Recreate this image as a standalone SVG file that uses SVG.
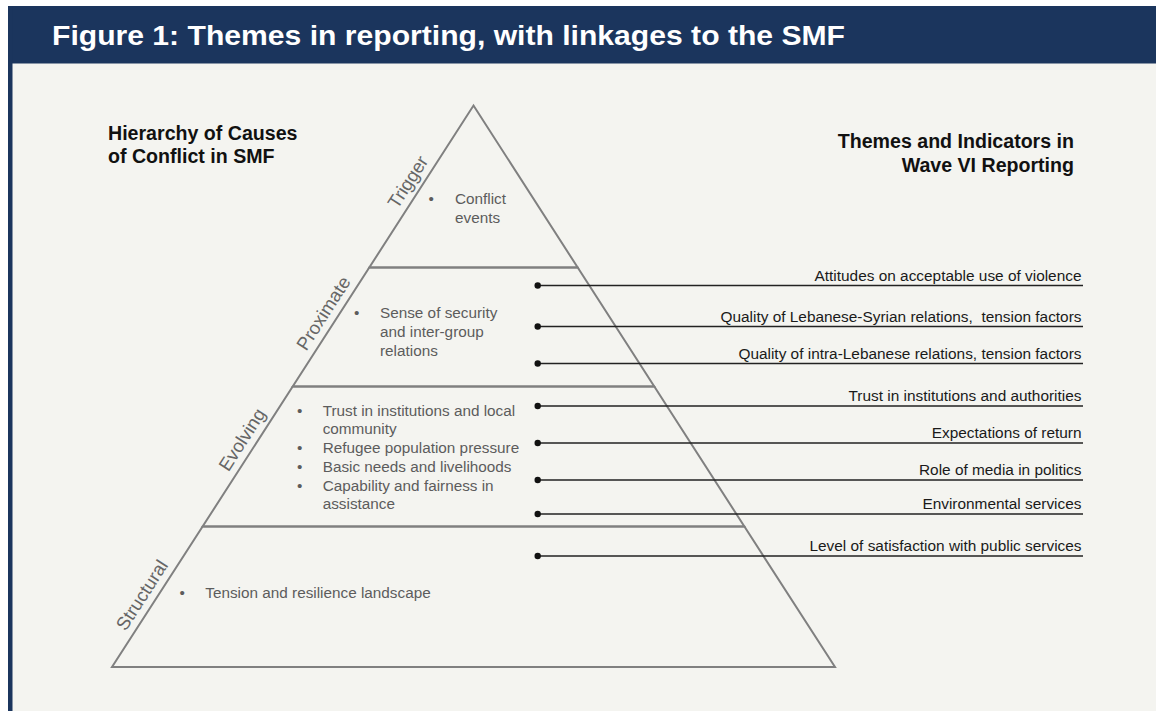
<svg xmlns="http://www.w3.org/2000/svg" width="1156" height="711" viewBox="0 0 1156 711">
<style>
.title{font-family:"Liberation Sans",Arial,sans-serif;font-weight:bold;font-size:27px;fill:#ffffff}
.head{font-family:"Liberation Sans",Arial,sans-serif;font-weight:bold;font-size:19.6px;fill:#111111}
.tier{fill:none;stroke:#808080;stroke-width:2;stroke-linejoin:miter}
.tl{font-family:"Liberation Sans",Arial,sans-serif;font-size:18.5px;fill:#666666}
.body{font-family:"Liberation Sans",Arial,sans-serif;font-size:15.3px;fill:#5c5c5c}
.ind{font-family:"Liberation Sans",Arial,sans-serif;font-size:15.4px;fill:#1a1a1a;text-anchor:end;white-space:pre}
.conn{stroke:#222222;stroke-width:1.5}
.dot{fill:#111111}
</style>
<rect x="0" y="0" width="1156" height="711" fill="#ffffff"/>
<rect x="8" y="6" width="1148" height="705" fill="#f4f4f0"/>
<g id="header">
<rect x="8" y="6" width="1148" height="57.5" fill="#1b355d"/>
<rect x="8" y="6" width="4.5" height="705" fill="#1b355d"/>
<text class="title" x="52" y="45" textLength="793" lengthAdjust="spacingAndGlyphs">Figure 1: Themes in reporting, with linkages to the SMF</text>
</g>
<g id="heading-left">
<text class="head" x="108" y="140">Hierarchy of Causes</text>
<text class="head" x="108" y="163.3">of Conflict in SMF</text>
</g>
<g id="heading-right">
<text class="head" x="1074" y="148.3" text-anchor="end">Themes and Indicators in</text>
<text class="head" x="1074" y="171.7" text-anchor="end">Wave VI Reporting</text>
</g>
<g id="tier-trigger">
<polygon class="tier" points="473.5,105.5 577.7,267.5 369.3,267.5"/>
<text class="tl" transform="translate(397.5,209.7) rotate(-57.22)">Trigger</text>
<text class="body" x="428.5" y="204.3">•</text>
<text class="body" x="455" y="204.3">Conflict</text>
<text class="body" x="455" y="222.7">events</text>
</g>
<g id="tier-proximate">
<polygon class="tier" points="369.3,267.5 577.7,267.5 654.3,386.5 292.7,386.5"/>
<text class="tl" transform="translate(306.2,351.7) rotate(-57.22)">Proximate</text>
<text class="body" x="354" y="318.3">•</text>
<text class="body" x="380" y="318.3">Sense of security</text>
<text class="body" x="380" y="337.3">and inter-group</text>
<text class="body" x="380" y="356">relations</text>
</g>
<g id="tier-evolving">
<polygon class="tier" points="292.7,386.5 654.3,386.5 744.4,526.5 202.6,526.5"/>
<text class="tl" transform="translate(228.4,472.5) rotate(-57.22)">Evolving</text>
<text class="body" x="297" y="415.5">•</text>
<text class="body" x="322.7" y="415.5">Trust in institutions and local</text>
<text class="body" x="322.7" y="434">community</text>
<text class="body" x="297" y="453">•</text>
<text class="body" x="322.7" y="453">Refugee population pressure</text>
<text class="body" x="297" y="471.5">•</text>
<text class="body" x="322.7" y="471.5">Basic needs and livelihoods</text>
<text class="body" x="297" y="490.5">•</text>
<text class="body" x="322.7" y="490.5">Capability and fairness in</text>
<text class="body" x="322.7" y="508.5">assistance</text>
</g>
<g id="tier-structural">
<polygon class="tier" points="202.6,526.5 744.4,526.5 835,667 112,667"/>
<text class="tl" transform="translate(125.8,631.8) rotate(-57.22)">Structural</text>
<text class="body" x="179.5" y="598.3">•</text>
<text class="body" x="205.3" y="598.3">Tension and resilience landscape</text>
</g>
<g id="indicators">
<g id="ind-1"><text class="ind" x="1081.5" y="280.5">Attitudes on acceptable use of violence</text></g>
<g id="ind-2"><text class="ind" x="1081.5" y="321.5">Quality of Lebanese-Syrian relations,  tension factors</text></g>
<g id="ind-3"><text class="ind" x="1081.5" y="358.5">Quality of intra-Lebanese relations, tension factors</text></g>
<g id="ind-4"><text class="ind" x="1081.5" y="401">Trust in institutions and authorities</text></g>
<g id="ind-5"><text class="ind" x="1081.5" y="438">Expectations of return</text></g>
<g id="ind-6"><text class="ind" x="1081.5" y="475">Role of media in politics</text></g>
<g id="ind-7"><text class="ind" x="1081.5" y="509">Environmental services</text></g>
<g id="ind-8"><text class="ind" x="1081.5" y="551">Level of satisfaction with public services</text></g>
</g>
<g id="connectors">
<line class="conn" x1="537.7" y1="285.5" x2="1083" y2="285.5"/><circle class="dot" cx="537.7" cy="285.5" r="3.2"/>
<line class="conn" x1="537.7" y1="326.5" x2="1083" y2="326.5"/><circle class="dot" cx="537.7" cy="326.5" r="3.2"/>
<line class="conn" x1="537.7" y1="363.5" x2="1083" y2="363.5"/><circle class="dot" cx="537.7" cy="363.5" r="3.2"/>
<line class="conn" x1="537.7" y1="406" x2="1083" y2="406"/><circle class="dot" cx="537.7" cy="406" r="3.2"/>
<line class="conn" x1="537.7" y1="443" x2="1083" y2="443"/><circle class="dot" cx="537.7" cy="443" r="3.2"/>
<line class="conn" x1="537.7" y1="480" x2="1083" y2="480"/><circle class="dot" cx="537.7" cy="480" r="3.2"/>
<line class="conn" x1="537.7" y1="514" x2="1083" y2="514"/><circle class="dot" cx="537.7" cy="514" r="3.2"/>
<line class="conn" x1="537.7" y1="556" x2="1083" y2="556"/><circle class="dot" cx="537.7" cy="556" r="3.2"/>
</g>
</svg>
